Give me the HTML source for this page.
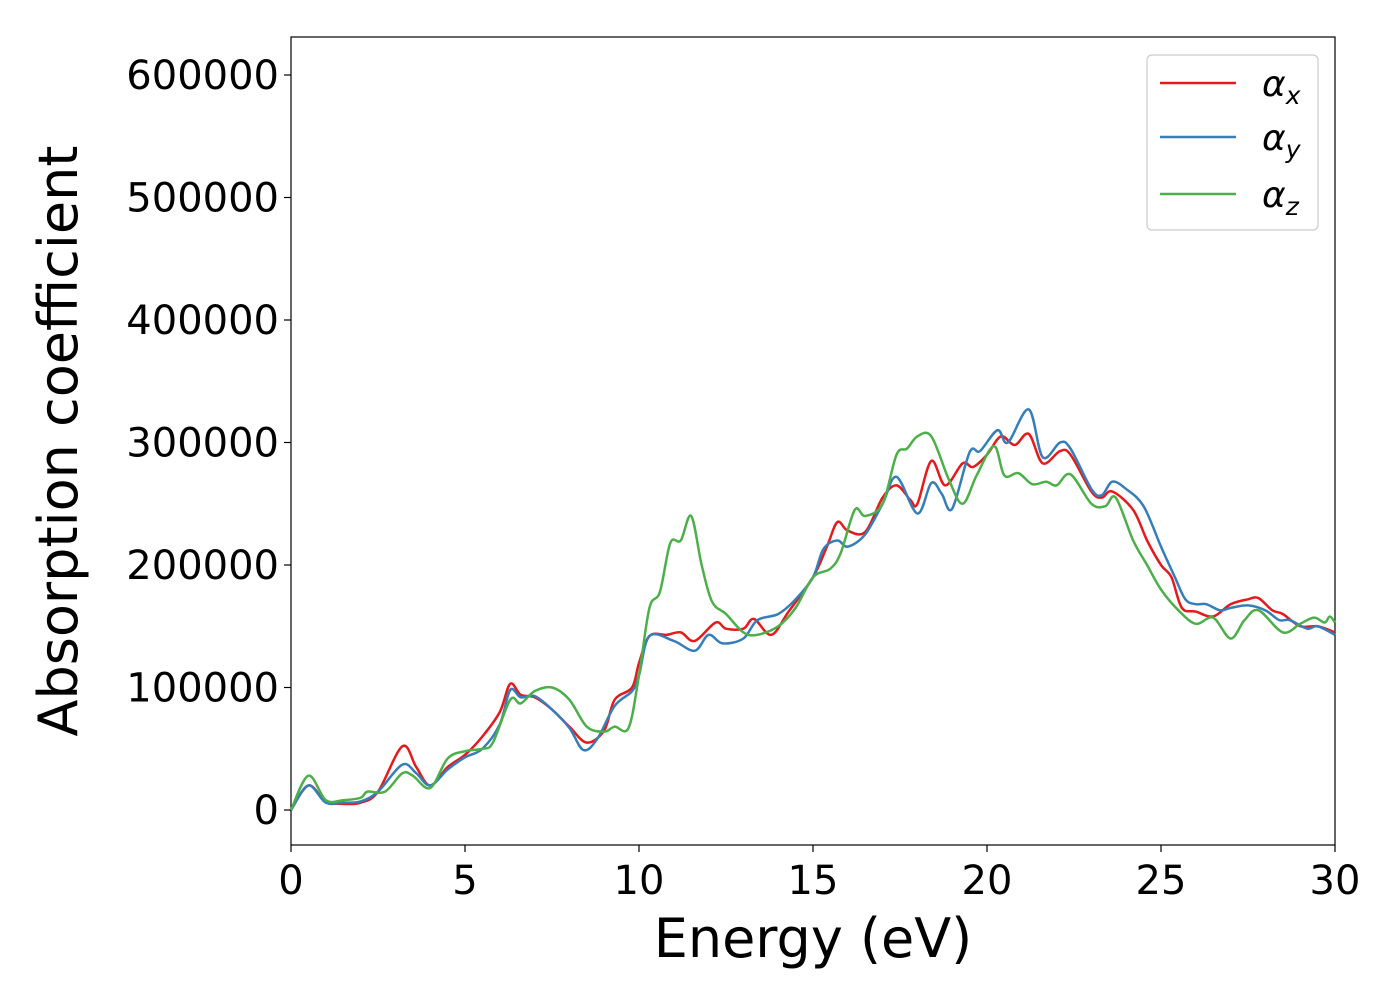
<!DOCTYPE html>
<html><head><meta charset="utf-8"><style>
body{margin:0;background:#fff}
svg text{font-family:"DejaVu Sans","Liberation Sans",sans-serif;fill:#000}
</style></head><body>
<svg id="chart" width="1400" height="1000">
<rect x="291" y="37" width="1044" height="808" fill="none" stroke="#000" stroke-width="1.2"/>
<g id="ticks"></g>
<g id="series"></g>
<text x="813" y="957" font-size="54" text-anchor="middle">Energy (eV)</text>
<text transform="translate(77,441) rotate(-90)" font-size="54" text-anchor="middle">Absorption coefficient</text>
<g>
<rect x="1147" y="55" width="171" height="175" rx="5" fill="#fff" stroke="#ccc" stroke-width="1.2"/>
<line x1="1160" y1="83" x2="1236" y2="83" stroke="#e41a1c" stroke-width="2.5"/>
<text x="1262" y="96" font-size="36" font-style="italic">α<tspan font-size="25" dy="8">x</tspan></text>
<line x1="1160" y1="137" x2="1236" y2="137" stroke="#377eb8" stroke-width="2.5"/>
<text x="1262" y="150" font-size="36" font-style="italic">α<tspan font-size="25" dy="8">y</tspan></text>
<line x1="1160" y1="194" x2="1236" y2="194" stroke="#4daf4a" stroke-width="2.5"/>
<text x="1262" y="207" font-size="36" font-style="italic">α<tspan font-size="25" dy="8">z</tspan></text>
</g>
</svg>
<script>
const xTicks=[0,5,10,15,20,25,30];
const yTicks=[0,100000,200000,300000,400000,500000,600000];
const redE=[0,.5,1,1.5,2,2.5,3.2,3.6,4,4.5,5,5.5,6,6.3,6.6,7,7.5,8,8.5,9,9.3,9.8,10,10.3,10.8,11.2,11.6,12.2,12.5,13,13.3,13.8,14.3,15,15.4,15.7,16,16.5,17,17.4,17.8,18,18.4,18.8,19.3,19.6,20,20.4,20.8,21.2,21.6,22.1,22.4,23,23.3,23.6,24.2,24.6,25,25.3,25.6,26,26.5,27,27.5,27.8,28.2,28.5,29,29.5,30];
const redV=[0,20,7,5,6,15,52,35,20,35,45,60,80,103,94,92,82,68,55,65,90,100,120,142,143,145,138,153,148,148,156,143,162,190,215,235,228,227,255,265,253,250,285,265,283,280,290,305,298,307,283,293,290,260,255,260,245,220,200,190,165,162,158,168,172,173,163,160,150,150,145];
const blueE=[0,.5,1,1.5,2,2.5,3.2,3.6,4,4.5,5,5.5,6,6.3,6.6,7,7.5,8,8.4,8.8,9.3,9.8,10,10.3,11,11.6,12,12.4,13,13.4,14,14.5,15,15.3,15.7,16,16.5,17,17.4,18,18.4,18.7,19,19.5,19.8,20.3,20.6,21.2,21.6,22.1,22.4,23,23.3,23.6,24,24.5,25,25.4,25.7,26,26.3,26.7,27,27.5,28,28.4,28.7,29.2,29.5,30];
const blueV=[0,20,6,6,7,15,37,30,20,33,43,50,70,98,92,93,82,67,49,58,85,97,110,142,138,130,143,136,140,155,160,172,190,213,220,215,225,250,272,242,267,258,246,292,293,310,300,327,288,300,295,262,257,268,262,248,215,190,172,168,168,163,165,167,163,155,155,148,150,143];
const greenE=[0,.5,1,1.5,2,2.2,2.7,3.2,3.5,4,4.5,5,5.5,5.8,6.3,6.6,7,7.5,8,8.5,9,9.3,9.7,10,10.3,10.6,10.9,11.2,11.5,11.8,12.1,12.5,13,13.4,14,14.5,15,15.5,15.8,16.2,16.5,17,17.4,17.7,18,18.4,18.9,19.3,19.7,20.2,20.5,20.9,21.3,21.7,22,22.4,23,23.4,23.7,24.2,24.6,25,25.5,26,26.5,27,27.4,27.8,28.5,29,29.4,29.7,29.85,30];
const greenV=[0,28,8,8,10,15,15,30,28,18,42,48,50,55,90,87,97,100,90,68,64,68,67,110,165,178,218,220,240,200,170,160,145,143,150,165,190,197,210,245,240,250,290,295,305,305,270,250,273,297,273,275,266,268,265,274,250,248,255,220,200,180,163,152,157,140,155,163,145,152,157,153,158,153];
const NS='http://www.w3.org/2000/svg';
const X=e=>291+e*1044/30, Y=v=>810-v*122.5/100000;
const tk=document.getElementById('ticks');
function mk(t,a,p){const el=document.createElementNS(NS,t);for(const k in a)el.setAttribute(k,a[k]);p.appendChild(el);return el;}
xTicks.forEach(t=>{
 const l=mk('line',{x1:X(t),x2:X(t),y1:845,y2:852,stroke:'#000','stroke-width':1.2},tk);
 
 
 const s=mk('text',{x:X(t),y:894,'font-size':40,'text-anchor':'middle'},tk);s.textContent=t;
 
 
});
yTicks.forEach(t=>{
 const l=mk('line',{x1:284,x2:291,y1:Y(t),y2:Y(t),stroke:'#000','stroke-width':1.2},tk);
 
 
 const s=mk('text',{x:279,y:Y(t)+14,'font-size':40,'text-anchor':'end'},tk);s.textContent=t;
 
 
});
function path(E,V){
 const p=E.map((e,i)=>[X(e),Y(V[i]*1000)]);
 let d='M'+p[0][0]+','+p[0][1];
 for(let i=0;i<p.length-1;i++){
  const p0=p[i-1]||p[i],p1=p[i],p2=p[i+1],p3=p[i+2]||p2;
  d+=' C'+(p1[0]+(p2[0]-p0[0])/6)+','+(p1[1]+(p2[1]-p0[1])/6)+' '+(p2[0]-(p3[0]-p1[0])/6)+','+(p2[1]-(p3[1]-p1[1])/6)+' '+p2[0]+','+p2[1];
 }
 return d;
}
const g=document.getElementById('series');
const sx=mk('path',{d:path(redE,redV),fill:'none',stroke:'#e41a1c','stroke-width':2.5},g);


const sy=mk('path',{d:path(blueE,blueV),fill:'none',stroke:'#377eb8','stroke-width':2.5},g);


const sz=mk('path',{d:path(greenE,greenV),fill:'none',stroke:'#4daf4a','stroke-width':2.5},g);


</script>
</body></html>
